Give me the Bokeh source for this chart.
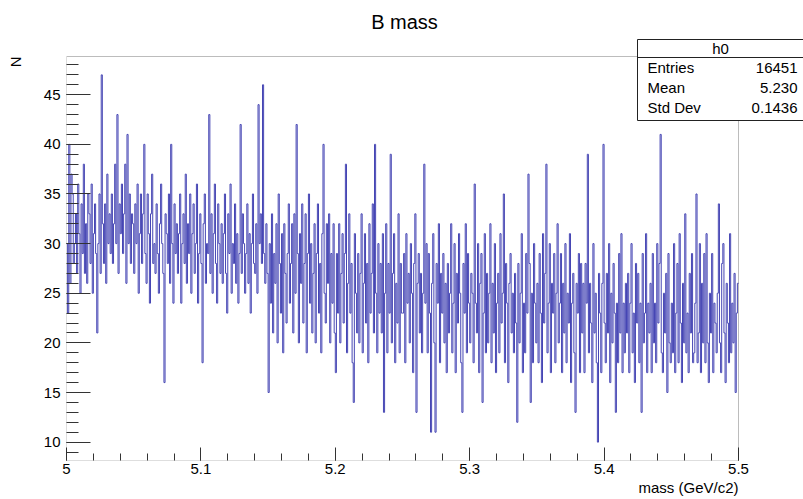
import numpy as np
from bokeh.plotting import figure
from bokeh.models import FixedTicker, Label, BoxAnnotation, ColumnDataSource, Title
from bokeh.embed import file_html
from bokeh.resources import INLINE

# ---- data (bin contents, 600 bins from 5.0 to 5.5) ----
x_min = 5.0
x_max = 5.5
counts = [
    30,23,40,26,37,35,28,30,33,27,36,31,25,34,29,38,27,32,26,35,
    33,28,36,25,31,34,29,21,30,35,27,47,32,28,34,26,37,30,33,29,
    35,28,32,38,30,43,27,34,31,36,29,33,38,26,41,30,35,28,33,32,
    27,34,30,36,25,31,35,28,33,40,29,26,35,31,24,33,37,28,30,27,
    34,29,25,32,36,30,27,16,33,31,28,35,26,40,30,24,34,29,32,27,
    31,35,24,30,33,28,37,26,32,29,35,25,31,34,27,30,36,24,29,33,
    28,18,32,35,26,30,29,43,27,33,25,31,36,28,24,34,30,27,32,26,
    31,35,27,23,33,29,36,25,30,28,34,26,31,24,29,42,27,33,30,25,
    29,34,26,31,23,30,35,28,27,32,25,44,30,33,28,46,29,26,32,27,
    15,30,24,33,21,29,26,32,20,35,28,23,31,19,32,27,22,29,34,24,
    28,32,21,33,25,42,29,20,31,26,34,22,28,33,19,29,35,24,30,21,
    27,32,20,29,34,23,28,19,31,40,25,22,32,26,33,20,29,24,32,21,
    17,29,23,32,20,27,31,22,29,38,19,26,33,23,28,18,14,31,25,21,
    29,20,27,33,19,26,31,22,28,18,32,23,27,34,21,40,25,19,30,23,
    28,21,31,13,25,32,19,28,23,39,20,27,31,18,26,22,33,19,28,23,
    23,29,18,31,24,27,20,30,25,17,28,33,13,26,29,21,27,19,25,38,
    24,30,19,29,23,11,26,31,20,11,28,24,32,18,27,23,29,20,26,17,
    28,21,25,32,19,24,30,17,27,22,31,25,18,13,28,23,32,19,29,24,
    20,27,25,18,36,24,21,30,17,26,29,14,23,31,19,27,20,25,32,18,
    26,21,30,17,24,27,19,31,22,25,35,18,28,24,16,26,29,21,25,19,
    27,22,12,28,20,25,31,17,24,19,29,23,37,28,14,25,18,30,24,20,
    26,18,29,23,16,31,22,27,38,19,24,30,17,26,23,29,18,25,32,20,
    24,29,17,26,21,30,18,25,22,31,16,24,27,19,13,26,23,29,17,28,
    21,26,17,28,24,39,19,26,22,16,30,21,25,18,10,27,23,17,26,40,
    22,18,27,21,30,16,25,20,28,23,13,24,18,29,21,31,17,24,19,26,
    21,27,17,24,30,19,23,16,28,22,27,18,24,13,29,20,23,31,17,24,
    21,26,17,29,20,24,18,30,22,28,41,19,17,25,21,27,15,29,20,18,
    24,19,30,17,23,28,18,31,22,16,26,20,33,19,23,17,27,21,29,18,
    19,24,35,18,21,30,17,26,20,29,18,31,20,16,25,21,29,17,24,22,
    19,25,34,20,17,28,30,21,16,26,22,18,31,19,24,20,27,15,23,26,
]
y_ticks = [10, 15, 20, 25, 30, 35, 40, 45]
x_ticks = [5.0, 5.1, 5.2, 5.3, 5.4, 5.5]
x_tick_labels = ["5", "5.1", "5.2", "5.3", "5.4", "5.5"]
stats_labels = ["Entries", "Mean", "Std Dev"]
stats_values = ["16451", "5.230", "0.1436"]
hist_name = "h0"
title_text = "B mass"
x_title = "mass (GeV/c2)"
y_title = "N"

n_bins = len(counts)
edges = np.linspace(x_min, x_max, n_bins + 1)
cmin, cmax = min(counts), max(counts)
pad = 0.05 * (cmax - cmin)
y0, y1 = cmin - pad, cmax + pad

FONT = "Liberation Sans"
W, H = 803, 499
# histogram box in canvas pixels: left 66, right 738, top 56, bottom 460
BL, BB = 66, 39
box_w, box_h = 738 - 66, 460 - 56
dx = (x_max - x_min) / box_w
dy = (y1 - y0) / box_h
# plotting frame is widened to the canvas' right and top edges so that the
# title and statistics box (which sit outside the histogram box) are not clipped
xr_end = x_max + (W - 738) * dx
yr_end = y1 + 56 * dy

p = figure(width=W, height=H, output_backend="svg", toolbar_location=None,
           x_range=(x_min, xr_end), y_range=(y0, yr_end),
           min_border_left=BL, min_border_right=0,
           min_border_top=0, min_border_bottom=BB)
p.background_fill_color = "white"
p.border_fill_color = "white"
p.outline_line_color = None
p.grid.visible = False

# histogram frame
p.add_layout(BoxAnnotation(left=x_min, right=x_max, bottom=y0, top=y1,
                           fill_alpha=0, line_color="#222222", line_width=1))

src = ColumnDataSource(dict(x=list(edges), y=list(counts) + [counts[-1]]))
p.step("x", "y", source=src, mode="after", line_color="#4646b4", line_width=1)

# axes
p.xaxis.ticker = FixedTicker(ticks=x_ticks,
                             minor_ticks=list(np.round(np.arange(5.0, 5.5001, 0.02), 3)))
p.yaxis.ticker = FixedTicker(ticks=y_ticks, minor_ticks=list(range(9, 49)))
p.xaxis.major_label_overrides = dict(zip(x_ticks, x_tick_labels))
for ax in (p.xaxis[0], p.yaxis[0]):
    ax.major_label_text_font = FONT
    ax.major_label_text_font_size = "15px"
    ax.major_label_text_color = "black"
    ax.axis_line_color = None
    ax.major_tick_line_color = "#333333"
    ax.minor_tick_line_color = "#333333"
    ax.major_tick_out = 0
    ax.minor_tick_out = 0
p.xaxis.major_tick_in = 13
p.xaxis.minor_tick_in = 7
p.xaxis.major_label_standoff = 3
p.yaxis.major_tick_in = 24
p.yaxis.minor_tick_in = 12
p.yaxis.major_label_standoff = 6

# axis titles (ROOT style: at the ends of the axes)
p.add_layout(Title(text=x_title, align="right", offset=(W - 738), standoff=0,
                   text_font=FONT, text_font_size="15px", text_font_style="normal",
                   text_color="black"), "below")
# empty spacer pushes the "N" title further out, towards the canvas edge
p.add_layout(Title(text=" ", standoff=0, text_font=FONT, text_font_size="9px"), "left")
p.add_layout(Title(text=y_title, align="right", offset=56, standoff=5,
                   vertical_align="top",
                   text_font=FONT, text_font_size="15px", text_font_style="normal",
                   text_color="black"), "left")


# ---- texts in canvas pixels (top-left origin) ----
def lab(x, y, text, size="15px", align="left"):
    p.add_layout(Label(x=x, y=y, x_units="canvas", y_units="canvas", text=text,
                       text_font=FONT, text_font_size=size, text_align=align,
                       text_baseline="middle", text_color="black"))


def box(l, r, t, b, fill=True):
    p.add_layout(BoxAnnotation(left=l, right=r, top=t, bottom=b,
                               left_units="canvas", right_units="canvas",
                               top_units="canvas", bottom_units="canvas",
                               fill_color="white", fill_alpha=1.0 if fill else 0.0,
                               line_color="#222222", line_width=1, line_alpha=1.0))


lab(404, 21, title_text, size="20px", align="center")

box(637, 810, 39, 120)
box(637, 810, 57, 57, fill=False)
lab(720, 48, hist_name, align="center")
for i, (sl, sv) in enumerate(zip(stats_labels, stats_values)):
    lab(647, 67 + 20 * i, sl, align="left")
    lab(797, 67 + 20 * i, sv, align="right")

open("out.html", "w").write(file_html(p, INLINE))
